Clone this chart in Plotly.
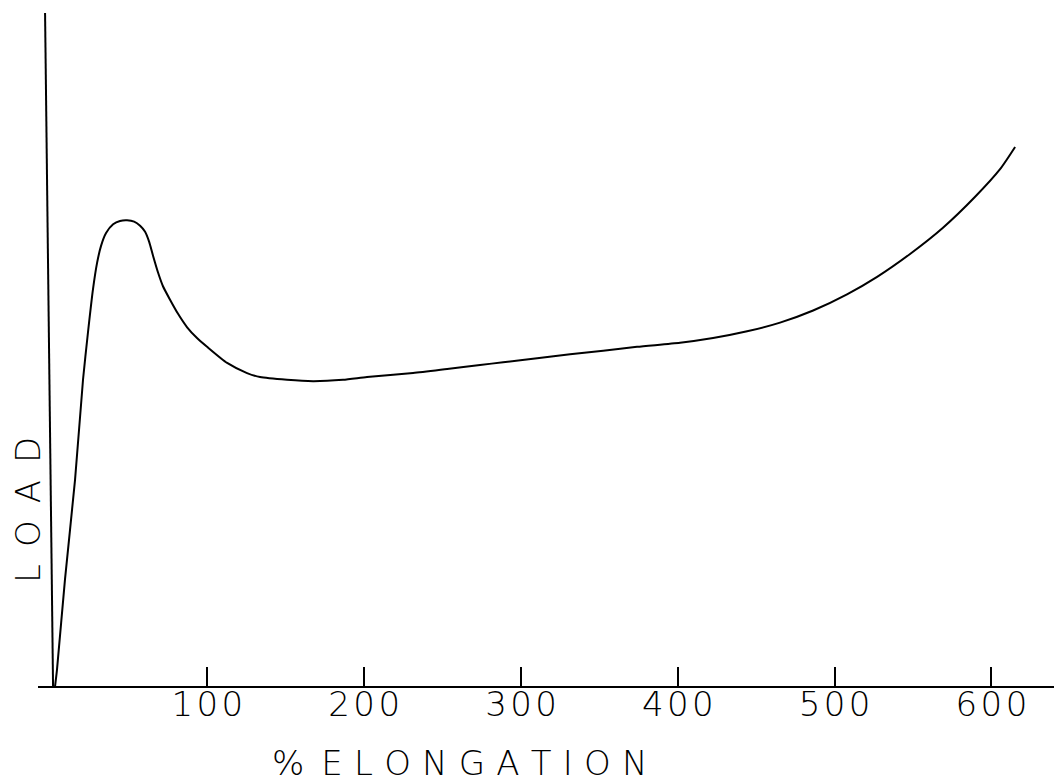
import plotly.graph_objects as go

# % elongation vs load (arbitrary units, 0-100 scale of axis height)
elongation = [2.9, 4.1, 9.2, 15.6, 20.7, 23.9, 27.1, 29.7, 32.2, 35.4, 39.9, 44.3,
              48.8, 53.3, 57.1, 60.3, 62.9, 65.4, 68.6, 71.7, 76.2, 81.3,
              87.1, 93.4, 99.8, 112.6, 125.3, 133.6,
              150.8, 167.4, 186.5, 201.8, 231.2, 252.9, 273.9, 288.6, 310.3, 331.3,
              352.4, 374.0, 401.4, 422.5, 444.2, 465.2, 486.3, 507.9, 527.1, 548.1,
              569.1, 589.6, 605.5, 615.1]
load = [0.0, 2.4, 15.8, 30.6, 45.5, 52.6, 59.0, 62.9, 65.4, 67.3, 68.6, 69.1,
        69.2, 69.0, 68.4, 67.5, 66.0, 63.9, 61.4, 59.4, 57.4, 55.3,
        53.3, 51.7, 50.4, 48.0, 46.5, 45.9,
        45.5, 45.3, 45.5, 45.9, 46.5, 47.1, 47.7, 48.1, 48.7, 49.3,
        49.8, 50.4, 51.0, 51.7, 52.7, 54.0, 55.8, 58.2, 60.8, 64.2,
        68.1, 72.7, 76.8, 80.1]

tick_values = [100, 200, 300, 400, 500, 600]
tick_labels = ["\u200a".join(str(v)) for v in tick_values]
x_title = "%\u2002" + "\u2004".join("ELONGATION")
y_title = "\u2002".join("LOAD")

FONT = dict(family="DejaVu Sans", color="black", size=34, weight=200)

fig = go.Figure()
fig.add_trace(go.Scatter(
    x=elongation, y=load, mode="lines",
    line=dict(color="black", width=2, shape="spline", smoothing=0.6),
    hoverinfo="skip", showlegend=False,
))

# hand-drawn, slightly slanted load axis
fig.add_shape(type="line", xref="x", yref="y", x0=-3.5, y0=100, x1=1.6, y1=0,
              line=dict(color="black", width=2))

fig.add_annotation(text=x_title, xref="paper", yref="paper", x=0.412, y=-0.1144,
                   showarrow=False, font=FONT, yanchor="middle", xanchor="center")
fig.add_annotation(text=y_title, xref="paper", yref="paper", x=-0.0098, y=0.2615,
                   showarrow=False, font=FONT, textangle=-90,
                   xanchor="center", yanchor="middle")
fig.update_layout(
    width=1054, height=774,
    margin=dict(l=30, r=0, t=5, b=96),
    paper_bgcolor="white", plot_bgcolor="white",
    xaxis=dict(range=[-8, 645], showgrid=False, zeroline=False,
               showline=True, linecolor="black", linewidth=2,
               ticks="inside", ticklen=19, tickwidth=1.5, tickcolor="black",
               tickvals=tick_values, ticktext=tick_labels,
               tickfont=FONT, ticklabelstandoff=-13, fixedrange=True),
    yaxis=dict(range=[0, 100], showgrid=False, zeroline=False, showline=False,
               showticklabels=False, ticks="", fixedrange=True),
)
fig.write_html("out.html")
